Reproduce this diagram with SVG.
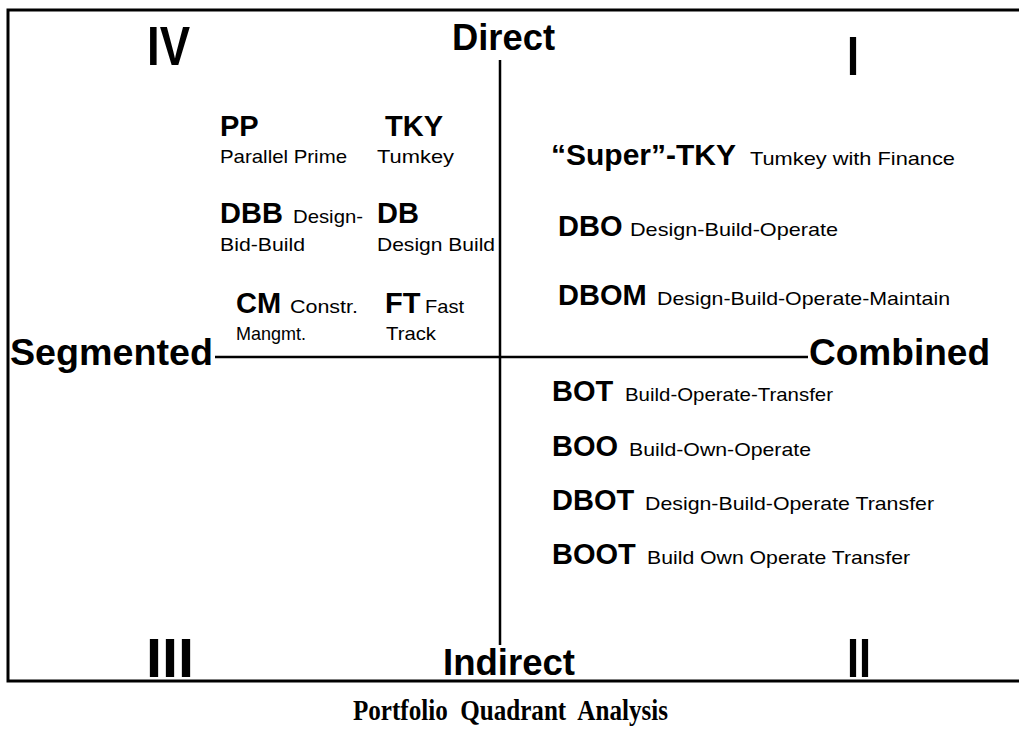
<svg xmlns="http://www.w3.org/2000/svg" width="1019" height="729" viewBox="0 0 1019 729">
  <style>
    .frame { fill: none; stroke: #000; stroke-width: 3; }
    .axis { stroke: #000; stroke-width: 2.5; fill: none; }
    .roman { font-family: "Liberation Sans", Arial, sans-serif; font-weight: bold; font-size: 56px; fill: #000; }
    .axislabel { font-family: "Liberation Sans", Arial, sans-serif; font-weight: bold; font-size: 36px; fill: #000; }
    .abbr { font-family: "Liberation Sans", Arial, sans-serif; font-weight: bold; font-size: 29px; fill: #000; }
    .desc { font-family: "Liberation Sans", Arial, sans-serif; font-size: 19px; fill: #000; }
    .title { font-family: "Liberation Serif", "Times New Roman", serif; font-weight: bold; font-size: 29px; fill: #000; }
  </style>

  <rect width="1019" height="729" fill="#fff"/>

  <!-- outer frame (open on the right) -->
  <path class="frame" d="M1019 10 H8 V681 H1019"/>

  <!-- axes -->
  <g id="connectors">
    <line class="axis" x1="500" y1="60" x2="500" y2="645"/>
    <line class="axis" x1="215" y1="357" x2="808" y2="357"/>
  </g>

  <!-- quadrant numerals -->
  <g id="quadrants">
    <text class="roman" x="147" y="65" textLength="43" lengthAdjust="spacingAndGlyphs">IV</text>
    <text class="roman" x="847" y="75" textLength="12" lengthAdjust="spacingAndGlyphs">I</text>
    <text class="roman" x="146" y="677" textLength="48" lengthAdjust="spacingAndGlyphs">III</text>
    <text class="roman" x="847" y="677" textLength="24" lengthAdjust="spacingAndGlyphs">II</text>
  </g>

  <!-- axis labels -->
  <g id="axis-labels">
    <text class="axislabel" x="452" y="50" textLength="103" lengthAdjust="spacingAndGlyphs">Direct</text>
    <text class="axislabel" x="443" y="675" textLength="132" lengthAdjust="spacingAndGlyphs">Indirect</text>
    <text class="axislabel" x="10" y="365" textLength="203" lengthAdjust="spacingAndGlyphs">Segmented</text>
    <text class="axislabel" x="809" y="365" textLength="181" lengthAdjust="spacingAndGlyphs">Combined</text>
  </g>

  <!-- quadrant IV: segmented / direct -->
  <g id="node-pp">
    <text class="abbr" x="220" y="136">PP</text>
    <text class="desc" x="220" y="163" textLength="127" lengthAdjust="spacingAndGlyphs">Parallel Prime</text>
  </g>
  <g id="node-tky">
    <text class="abbr" x="385" y="136">TKY</text>
    <text class="desc" x="377" y="163" textLength="77" lengthAdjust="spacingAndGlyphs">Tumkey</text>
  </g>
  <g id="node-dbb">
    <text class="abbr" x="220" y="223">DBB</text>
    <text class="desc" x="293" y="223" textLength="70" lengthAdjust="spacingAndGlyphs">Design-</text>
    <text class="desc" x="220" y="251" textLength="85" lengthAdjust="spacingAndGlyphs">Bid-Build</text>
  </g>
  <g id="node-db">
    <text class="abbr" x="377" y="223">DB</text>
    <text class="desc" x="377" y="251" textLength="118" lengthAdjust="spacingAndGlyphs">Design Build</text>
  </g>
  <g id="node-cm">
    <text class="abbr" x="236" y="313">CM</text>
    <text class="desc" x="290" y="313" textLength="68" lengthAdjust="spacingAndGlyphs">Constr.</text>
    <text class="desc" x="236" y="340" textLength="70" lengthAdjust="spacingAndGlyphs">Mangmt.</text>
  </g>
  <g id="node-ft">
    <text class="abbr" x="385" y="313">FT</text>
    <text class="desc" x="425" y="313" textLength="39" lengthAdjust="spacingAndGlyphs">Fast</text>
    <text class="desc" x="386" y="340" textLength="50" lengthAdjust="spacingAndGlyphs">Track</text>
  </g>

  <!-- quadrant I: combined / direct -->
  <g id="node-super-tky">
    <text class="abbr" x="551" y="165" textLength="185" lengthAdjust="spacingAndGlyphs">“Super”-TKY</text>
    <text class="desc" x="750" y="165" textLength="205" lengthAdjust="spacingAndGlyphs">Tumkey with Finance</text>
  </g>
  <g id="node-dbo">
    <text class="abbr" x="558" y="236">DBO</text>
    <text class="desc" x="630" y="236" textLength="208" lengthAdjust="spacingAndGlyphs">Design-Build-Operate</text>
  </g>
  <g id="node-dbom">
    <text class="abbr" x="558" y="305">DBOM</text>
    <text class="desc" x="657" y="305" textLength="293" lengthAdjust="spacingAndGlyphs">Design-Build-Operate-Maintain</text>
  </g>

  <!-- quadrant II: combined / indirect -->
  <g id="node-bot">
    <text class="abbr" x="552" y="401">BOT</text>
    <text class="desc" x="625" y="401" textLength="208" lengthAdjust="spacingAndGlyphs">Build-Operate-Transfer</text>
  </g>
  <g id="node-boo">
    <text class="abbr" x="552" y="456">BOO</text>
    <text class="desc" x="629" y="456" textLength="182" lengthAdjust="spacingAndGlyphs">Build-Own-Operate</text>
  </g>
  <g id="node-dbot">
    <text class="abbr" x="552" y="510">DBOT</text>
    <text class="desc" x="645" y="510" textLength="289" lengthAdjust="spacingAndGlyphs">Design-Build-Operate Transfer</text>
  </g>
  <g id="node-boot">
    <text class="abbr" x="552" y="564">BOOT</text>
    <text class="desc" x="647" y="564" textLength="263" lengthAdjust="spacingAndGlyphs">Build Own Operate Transfer</text>
  </g>

  <!-- caption -->
  <text class="title" x="353" y="720" textLength="315" lengthAdjust="spacingAndGlyphs" xml:space="preserve">Portfolio  Quadrant  Analysis</text>
</svg>
